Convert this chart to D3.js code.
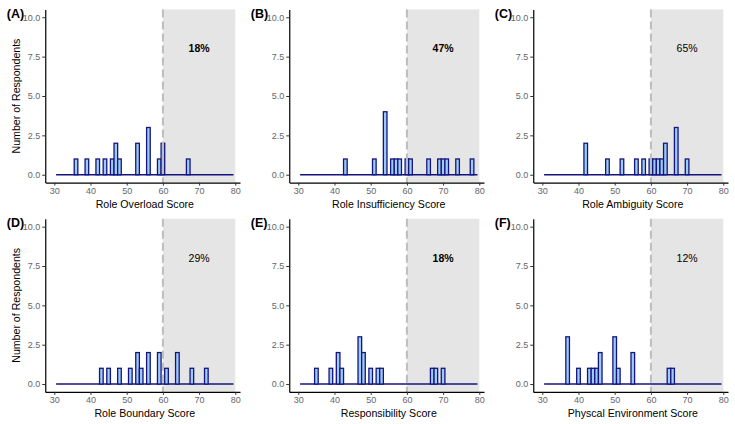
<!DOCTYPE html>
<html><head><meta charset="utf-8">
<script src="https://cdn.jsdelivr.net/npm/d3@7"></script>
<style>
body{margin:0;background:#fff}
text{font-family:"Liberation Sans", Arial, Helvetica, sans-serif}
</style>
</head><body>
<svg id="chart" width="735" height="424"></svg>
<script>
// ---------------- data ----------------
const panelTags = ["(A)", "(B)", "(C)", "(D)", "(E)", "(F)"];
const xTitles = ["Role Overload Score", "Role Insufficiency Score", "Role Ambiguity Score",
                 "Role Boundary Score", "Responsibility Score", "Physcal Environment Score"];
const percentLabels = ["18%", "47%", "65%", "29%", "18%", "12%"];

const scoresA = [36, 39, 42, 44, 46, 47, 48, 53, 56, 59, 60, 67];
const countsA = [1, 1, 1, 1, 1, 2, 1, 2, 3, 1, 2, 1];
const scoresB = [43, 51, 54, 56, 57, 58, 60, 61, 66, 69, 70, 71, 74, 78];
const countsB = [1, 1, 4, 1, 1, 1, 1, 1, 1, 1, 1, 1, 1, 1];
const scoresC = [42, 48, 52, 56, 58, 60, 61, 62, 63, 64, 67, 70];
const countsC = [2, 1, 1, 1, 1, 1, 1, 1, 1, 2, 3, 1];
const scoresD = [43, 45, 48, 51, 53, 54, 56, 59, 61, 64, 68, 72];
const countsD = [1, 1, 1, 1, 2, 1, 2, 2, 1, 2, 1, 1];
const scoresE = [35, 39, 41, 42, 47, 48, 50, 52, 53, 67, 68, 70];
const countsE = [1, 1, 2, 1, 3, 2, 1, 1, 1, 1, 1, 1];
const scoresF = [37, 40, 43, 44, 45, 46, 50, 51, 55, 65, 66];
const countsF = [3, 1, 1, 1, 1, 2, 3, 1, 2, 1, 1];

const binFirst = 31, binLast = 79;      // histogram bins (width 1)
const cutoffScore = 60, shadeEnd = 80;  // shaded "high" region
const labelScore = 70, labelCount = 8;  // where percentage label sits
const xTicks = [30, 40, 50, 60, 70, 80];
const yTicks = [0, 2.5, 5, 7.5, 10];
const xDomain = [27.5, 81.3];
const yDomain = [-0.5, 10.5];

const allScores = [scoresA, scoresB, scoresC, scoresD, scoresE, scoresF];
const allCounts = [countsA, countsB, countsC, countsD, countsE, countsF];

// ---------------- layout / style ----------------
const colX = [[45.25, 240.0], [289.25, 484.0], [533.25, 728.0]];
const rowY = [[182.6, 9.4], [391.9, 218.8]];
const boldLabel = [true, true, false, false, true, false];
const barFill = "#9dcbf6", barStroke = "#14147e";

const svg = d3.select("#chart");

for (let i = 0; i < 6; i++) {
  const col = i % 3, row = Math.floor(i / 3);
  const x = d3.scaleLinear().domain(xDomain).range(colX[col]);
  const y = d3.scaleLinear().domain(yDomain).range(rowY[row]);
  const g = svg.append("g");
  const data = allScores[i].map((s, k) => ({score: s, count: allCounts[i][k]}));

  // shaded region
  g.append("rect")
    .attr("x", x(cutoffScore)).attr("width", x(shadeEnd) - x(cutoffScore))
    .attr("y", y(yDomain[1])).attr("height", y(yDomain[0]) - y(yDomain[1]))
    .attr("fill", "#e5e5e5");

  // zero line of empty bins
  g.append("line")
    .attr("x1", x(binFirst - 0.5)).attr("x2", x(binLast + 0.5))
    .attr("y1", y(0)).attr("y2", y(0))
    .attr("stroke", barStroke).attr("stroke-width", 1.4);

  // bars
  g.selectAll("rect.bar").data(data).join("rect").attr("class", "bar")
    .attr("x", d => x(d.score - 0.5))
    .attr("width", d => x(d.score + 0.5) - x(d.score - 0.5))
    .attr("y", d => y(d.count))
    .attr("height", d => y(0) - y(d.count))
    .attr("fill", barFill).attr("stroke", barStroke).attr("stroke-width", 1.3);

  // dashed cutoff
  g.append("line")
    .attr("x1", x(cutoffScore)).attr("x2", x(cutoffScore))
    .attr("y1", y(yDomain[1])).attr("y2", y(yDomain[0]))
    .attr("stroke", "#bdbdbd").attr("stroke-width", 2)
    .attr("stroke-dasharray", "8,4");

  // percentage label
  g.append("text")
    .attr("x", x(labelScore)).attr("y", y(labelCount)).attr("dy", "0.35em")
    .attr("text-anchor", "middle")
    .attr("font-size", 10.5)
    .attr("font-weight", boldLabel[i] ? "bold" : "normal")
    .attr("fill", "#000")
    .text(percentLabels[i]);

  // axes
  const xAxis = g.append("g").attr("transform", `translate(0,${rowY[row][0]})`)
    .call(d3.axisBottom(x).tickValues(xTicks).tickSize(3).tickSizeOuter(0).tickPadding(2));
  const yAxis = g.append("g").attr("transform", `translate(${colX[col][0]},0)`)
    .call(d3.axisLeft(y).tickValues(yTicks).tickFormat(d3.format(".1f")).tickSize(3).tickSizeOuter(0).tickPadding(2));
  [xAxis, yAxis].forEach(a => {
    a.select(".domain").attr("stroke", "#000").attr("stroke-width", 1.2);
    a.selectAll(".tick line").attr("stroke", "#333");
    a.selectAll(".tick text").attr("fill", "#666").attr("font-size", 9)
      .attr("font-family", '"Liberation Sans", Arial, sans-serif');
  });

  // x title
  g.append("text")
    .attr("x", (x(xTicks[0]) + x(xTicks[xTicks.length - 1])) / 2)
    .attr("y", rowY[row][0] + 25.5)
    .attr("text-anchor", "middle").attr("font-size", 10.6).attr("fill", "#000")
    .text(xTitles[i]);

  // tag
  g.append("text")
    .attr("x", colX[col][0] - 38.5).attr("y", rowY[row][1] + 8.5)
    .attr("font-size", 12.5).attr("font-weight", "bold").attr("fill", "#000")
    .text(panelTags[i]);

  // y title (first column only)
  if (col === 0) {
    const cy = (rowY[row][0] + rowY[row][1]) / 2;
    g.append("text")
      .attr("transform", `translate(20,${cy}) rotate(-90)`)
      .attr("text-anchor", "middle").attr("font-size", 10.6).attr("fill", "#000")
      .text("Number of Respondents");
  }
}
</script>
</body></html>
